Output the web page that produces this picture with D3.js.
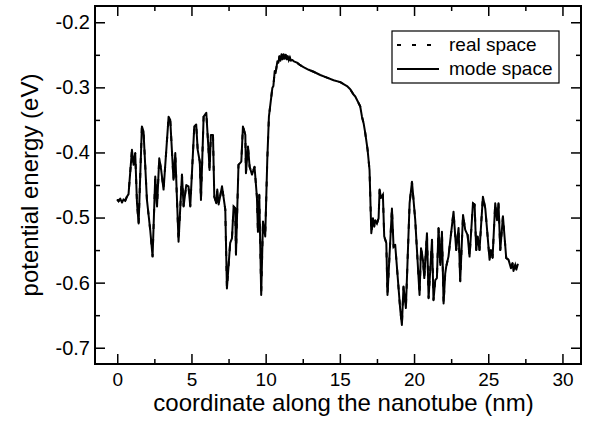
<!DOCTYPE html>
<html>
  <head>
    <script src="https://d3js.org/d3.v7.min.js"></script>
    <style>
      body { margin: 0; background: #fff; }
      text { font-family: "Liberation Sans", Arial, Helvetica, sans-serif; }
    </style>
  </head>
  <body>
    <script>

    // coordinate along the nanotube (nm)
    var positionNm = [0.00, 0.09, 0.20, 0.32, 0.42, 0.54, 0.65, 0.76, 0.99, 1.10,
      1.21, 1.33, 1.44, 1.66, 1.77, 2.00, 2.22, 2.38, 2.56, 2.68,
      2.83, 2.96, 3.12, 3.46, 3.57, 3.79, 3.91, 4.13, 4.36, 4.47,
      4.65, 4.80, 4.92, 5.19, 5.32, 5.42, 5.56, 5.64, 5.82, 6.00,
      6.15, 6.22, 6.31, 6.45, 6.54, 6.67, 6.74, 6.83, 7.06, 7.28,
      7.39, 7.61, 7.73, 7.84, 7.95, 8.00, 8.17, 8.36, 8.47, 8.63,
      8.67, 8.81, 8.92, 9.08, 9.25, 9.41, 9.48, 9.57, 9.70, 9.82,
      9.97, 10.11, 10.22, 10.45, 10.52, 10.61, 10.67, 10.79, 10.86, 10.93,
      11.00, 11.07, 11.14, 11.21, 11.28, 11.35, 11.42, 11.49, 11.56, 11.63,
      11.70, 11.80, 11.90, 12.11, 12.33, 12.55, 12.90, 13.23, 13.68, 14.13,
      14.58, 15.03, 15.25, 15.48, 15.70, 15.92, 16.04, 16.15, 16.26, 16.37,
      16.49, 16.60, 16.71, 16.87, 17.00, 17.12, 17.23, 17.32, 17.39, 17.50,
      17.61, 17.68, 17.77, 17.90, 17.99, 18.13, 18.21, 18.51, 18.62, 18.73,
      19.07, 19.18, 19.29, 19.45, 19.70, 19.86, 20.08, 20.37, 20.47, 20.60,
      20.69, 20.87, 20.98, 21.21, 21.31, 21.43, 21.54, 21.65, 21.77, 21.88,
      21.99, 22.10, 22.17, 22.32, 22.66, 22.84, 23.00, 23.11, 23.30, 23.45,
      23.61, 23.74, 23.97, 24.08, 24.19, 24.28, 24.41, 24.64, 24.80, 25.09,
      25.18, 25.29, 25.47, 25.59, 25.69, 25.81, 25.99, 26.21, 26.37, 26.53,
      26.64, 26.70, 26.82, 26.89, 27.00];

    // potential energy (eV), mode space calculation
    var modeSpace = [-0.472, -0.475, -0.471, -0.477, -0.472, -0.474, -0.468, -0.464, -0.396, -0.419,
      -0.401, -0.478, -0.509, -0.360, -0.368, -0.473, -0.519, -0.560, -0.437, -0.483,
      -0.409, -0.427, -0.457, -0.345, -0.350, -0.442, -0.401, -0.537, -0.434, -0.483,
      -0.450, -0.452, -0.483, -0.360, -0.357, -0.396, -0.414, -0.473, -0.345, -0.339,
      -0.396, -0.427, -0.373, -0.373, -0.468, -0.478, -0.457, -0.480, -0.452, -0.488,
      -0.609, -0.539, -0.532, -0.483, -0.486, -0.557, -0.419, -0.414, -0.360, -0.373,
      -0.432, -0.391, -0.422, -0.434, -0.422, -0.468, -0.522, -0.465, -0.619, -0.506,
      -0.529, -0.411, -0.345, -0.301, -0.298, -0.275, -0.278, -0.260, -0.262, -0.252,
      -0.259, -0.249, -0.257, -0.249, -0.256, -0.250, -0.257, -0.252, -0.258, -0.254,
      -0.259, -0.258, -0.260, -0.262, -0.266, -0.269, -0.273, -0.276, -0.281, -0.285,
      -0.289, -0.292, -0.295, -0.298, -0.303, -0.311, -0.314, -0.319, -0.324, -0.329,
      -0.345, -0.355, -0.370, -0.396, -0.427, -0.524, -0.501, -0.514, -0.504, -0.509,
      -0.501, -0.457, -0.470, -0.465, -0.529, -0.539, -0.619, -0.486, -0.545, -0.542,
      -0.642, -0.665, -0.606, -0.639, -0.478, -0.445, -0.504, -0.619, -0.547, -0.565,
      -0.593, -0.524, -0.624, -0.534, -0.627, -0.596, -0.593, -0.516, -0.573, -0.522,
      -0.632, -0.586, -0.575, -0.560, -0.491, -0.550, -0.516, -0.598, -0.496, -0.519,
      -0.527, -0.560, -0.478, -0.480, -0.550, -0.529, -0.550, -0.468, -0.486, -0.565,
      -0.550, -0.562, -0.478, -0.504, -0.478, -0.550, -0.498, -0.562, -0.565, -0.578,
      -0.570, -0.582, -0.573, -0.580, -0.571];

    // real space result coincides with mode space on this plot
    var realSpace = modeSpace.slice();

    var xTicks = [0, 5, 10, 15, 20, 25, 30];
    var xMinorTicks = [2.5, 7.5, 12.5, 17.5, 22.5, 27.5];
    var yTicks = [-0.7, -0.6, -0.5, -0.4, -0.3, -0.2];
    var yMinorTicks = [-0.65, -0.55, -0.45, -0.35, -0.25];
    var seriesNames = ["real space", "mode space"];

    var w = 589;
    var h = 424;
    var plotLeft = 95, plotRight = 581, plotTop = 6, plotBottom = 364;

    var svg = d3.select("body")
      .append("svg")
      .attr("width", w)
      .attr("height", h);

    var x = d3.scaleLinear().domain([-1.5, 31.25]).range([plotLeft, plotRight]);
    var y = d3.scaleLinear().domain([-0.725, -0.175]).range([plotBottom, plotTop]);

    var fmt = function(d) { return d.toFixed(1); };

    // axes with inward ticks
    function styleAxis(size) {
      return function(g) {
        g.select(".domain").remove();
        g.selectAll("line").attr("stroke", "#000").attr("stroke-width", 1.5);
        g.selectAll("text").attr("fill", "#000").attr("font-size", size + "px")
          .attr("font-family", "'Liberation Sans', Arial, sans-serif");
      };
    }

    svg.append("g").attr("transform", "translate(0," + plotBottom + ")")
      .call(d3.axisBottom(x).tickValues(xTicks).tickSize(-10).tickPadding(9))
      .call(styleAxis(19));
    svg.append("g").attr("transform", "translate(0," + plotBottom + ")")
      .call(d3.axisBottom(x).tickValues(xMinorTicks).tickSize(-5).tickFormat(""))
      .call(styleAxis(19));
    svg.append("g").attr("transform", "translate(0," + plotTop + ")")
      .call(d3.axisTop(x).tickValues(xTicks).tickSize(-10).tickFormat(""))
      .call(styleAxis(19));
    svg.append("g").attr("transform", "translate(0," + plotTop + ")")
      .call(d3.axisTop(x).tickValues(xMinorTicks).tickSize(-5).tickFormat(""))
      .call(styleAxis(19));

    svg.append("g").attr("transform", "translate(" + plotLeft + ",0)")
      .call(d3.axisLeft(y).tickValues(yTicks).tickSize(-10).tickPadding(5).tickFormat(fmt))
      .call(styleAxis(20));
    svg.append("g").attr("transform", "translate(" + plotLeft + ",0)")
      .call(d3.axisLeft(y).tickValues(yMinorTicks).tickSize(-5).tickFormat(""))
      .call(styleAxis(20));
    svg.append("g").attr("transform", "translate(" + plotRight + ",0)")
      .call(d3.axisRight(y).tickValues(yTicks).tickSize(-10).tickFormat(""))
      .call(styleAxis(20));
    svg.append("g").attr("transform", "translate(" + plotRight + ",0)")
      .call(d3.axisRight(y).tickValues(yMinorTicks).tickSize(-5).tickFormat(""))
      .call(styleAxis(20));

    // frame
    svg.append("rect")
      .attr("x", plotLeft).attr("y", plotTop)
      .attr("width", plotRight - plotLeft).attr("height", plotBottom - plotTop)
      .attr("fill", "none").attr("stroke", "#000").attr("stroke-width", 2);

    // curves
    var line = d3.line()
      .x(function(d, i) { return x(positionNm[i]); })
      .y(function(d) { return y(d); });

    svg.append("path").datum(realSpace)
      .attr("d", line)
      .attr("fill", "none").attr("stroke", "#000")
      .attr("stroke-width", 2).attr("stroke-dasharray", "5,10");

    svg.append("path").datum(modeSpace)
      .attr("d", line)
      .attr("fill", "none").attr("stroke", "#000")
      .attr("stroke-width", 2).attr("stroke-linejoin", "round");

    // axis titles
    svg.append("text")
      .attr("x", 343.5).attr("y", 411)
      .attr("text-anchor", "middle").attr("font-size", "24px")
      .text("coordinate along the nanotube (nm)");

    svg.append("text")
      .attr("transform", "translate(38," + (plotTop + plotBottom) / 2 + ") rotate(-90)")
      .attr("text-anchor", "middle").attr("font-size", "24px")
      .text("potential energy (eV)");

    // legend
    var legend = svg.append("g");
    legend.append("rect")
      .attr("x", 392).attr("y", 31).attr("width", 167).attr("height", 52)
      .attr("fill", "#fff").attr("stroke", "#000").attr("stroke-width", 1.2);

    legend.selectAll("line.key")
      .data(seriesNames)
      .enter()
      .append("line")
      .attr("x1", 397).attr("x2", 439)
      .attr("y1", function(d, i) { return 45 + i * 24; })
      .attr("y2", function(d, i) { return 45 + i * 24; })
      .attr("stroke", "#000").attr("stroke-width", 2)
      .attr("stroke-dasharray", function(d, i) { return i === 0 ? "4,11" : null; });

    legend.selectAll("text")
      .data(seriesNames)
      .enter()
      .append("text")
      .attr("x", 449)
      .attr("y", function(d, i) { return 51 + i * 24; })
      .attr("font-size", "19px")
      .text(function(d) { return d; });

    </script>
  </body>
</html>
